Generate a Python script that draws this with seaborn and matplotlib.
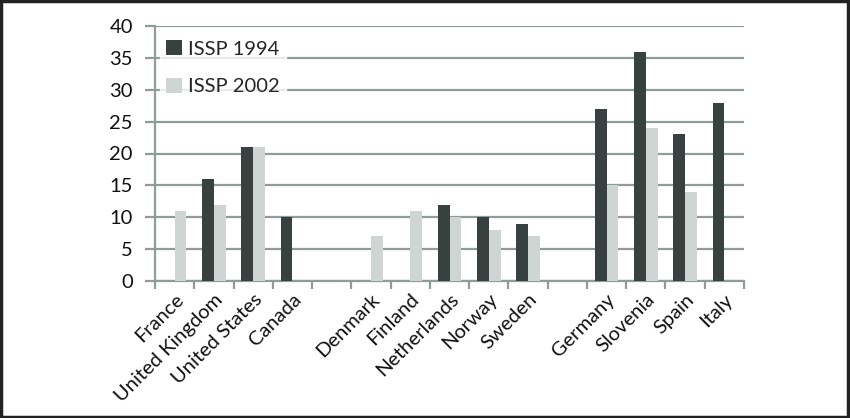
import numpy as np
import pandas as pd
import matplotlib
matplotlib.use("Agg")
import matplotlib.pyplot as plt
import seaborn as sns
from matplotlib.patches import Rectangle

categories = ["France", "United Kingdom", "United States", "Canada", " ",
              "Denmark", "Finland", "Netherlands", "Norway", "Sweden", "  ",
              "Germany", "Slovenia", "Spain", "Italy"]
issp_1994 = [None, 16, 21, 10, None, None, None, 12, 10, 9, None, 27, 36, 23, 28]
issp_2002 = [11, 12, 21, None, None, 7, 11, 10, 8, 7, None, 15, 24, 14, None]
series_names = ["ISSP 1994", "ISSP 2002"]
yticks = [0, 5, 10, 15, 20, 25, 30, 35, 40]

rows = []
for c, a, b in zip(categories, issp_1994, issp_2002):
    if a is not None:
        rows.append({"country": c, "series": series_names[0], "value": a})
    if b is not None:
        rows.append({"country": c, "series": series_names[1], "value": b})
df = pd.DataFrame(rows)

sns.set_theme(style="white")
plt.rcParams["font.family"] = ["Lato", "DejaVu Sans"]

fig = plt.figure(figsize=(8.5, 4.18), dpi=100)
ax = fig.add_axes([155/850, 1-281/418, (744-155)/850, (281-26)/418])

grid_c = "#8e9c9a"
dark = "#394140"
light = "#cfd5d3"

sns.barplot(data=df, x="country", y="value", hue="series", order=categories,
            hue_order=series_names, palette=[dark, light], width=0.6,
            saturation=1, ax=ax, errorbar=None, zorder=3, linewidth=0)

ax.set_xlim(-0.5, len(categories) - 0.5)
ax.set_ylim(0, 40)
ax.set_yticks(yticks)
ax.set_yticklabels([str(t) for t in yticks], fontsize=14.5, color="#111111")
ax.yaxis.grid(True, color=grid_c, linewidth=1.6, zorder=0)
ax.set_axisbelow(True)
ax.tick_params(axis="y", length=7, width=1.6, color=grid_c, pad=9, left=True)

ax.set_xticks(np.arange(len(categories)))
ax.set_xticklabels(categories, rotation=45, ha="right", rotation_mode="anchor",
                   fontsize=14.5, color="#111111")
ax.tick_params(axis="x", length=0, pad=7)
ax.set_xticks(np.arange(-0.5, len(categories)), minor=True)
ax.tick_params(axis="x", which="minor", length=6, width=1.6, color=grid_c, bottom=True)

for s in ["top", "right"]:
    ax.spines[s].set_visible(False)
ax.spines["left"].set_color(grid_c)
ax.spines["left"].set_linewidth(1.6)
ax.spines["bottom"].set_color(grid_c)
ax.spines["bottom"].set_linewidth(1.6)
ax.set_xlabel("")
ax.set_ylabel("")

leg = ax.legend(loc="upper left", bbox_to_anchor=(0.0085, 0.969), frameon=True,
                fontsize=14.5, labelspacing=1.0, handlelength=0.8, handleheight=0.8,
                handletextpad=0.3, borderpad=0.3, borderaxespad=0, fancybox=False)
leg.get_frame().set_facecolor("white")
leg.get_frame().set_edgecolor("white")
leg.set_zorder(5)

fig.patches.append(Rectangle((0.001, 0.002), 0.997, 0.996, transform=fig.transFigure,
                             fill=False, edgecolor="#222222", linewidth=2.5))

fig.savefig("out.png", dpi=100)
